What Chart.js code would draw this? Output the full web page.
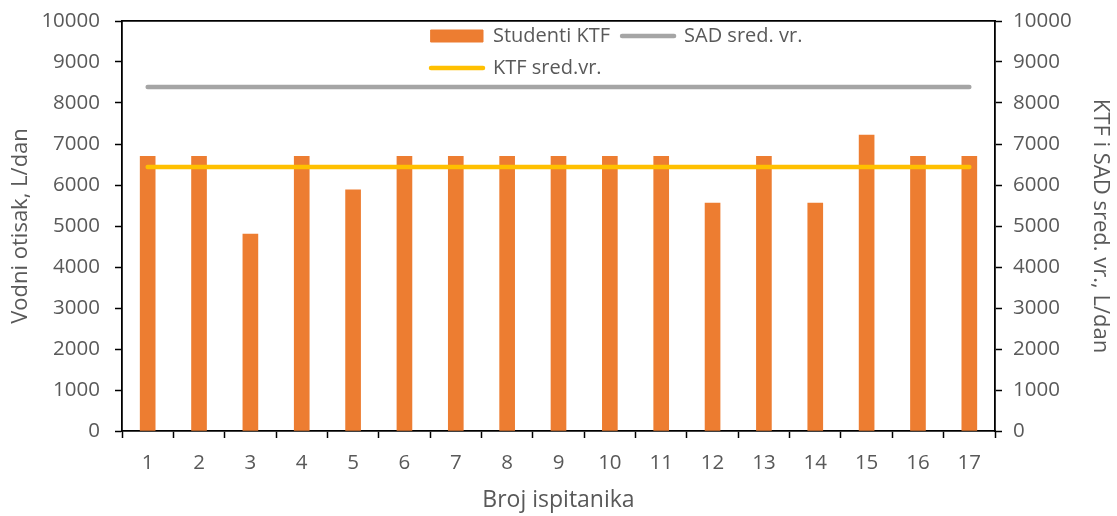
<!DOCTYPE html>
<html>
<head>
<meta charset="utf-8">
<script src="https://cdn.jsdelivr.net/npm/chart.js@4/dist/chart.umd.min.js"></script>
<style>
  html, body { margin: 0; padding: 0; background: #fff; }
</style>
</head>
<body>
<canvas id="grafik" width="1117" height="516"></canvas>
<script>
// ---------- Podaci ----------
const ispitanici = ["1", "2", "3", "4", "5", "6", "7", "8", "9", "10", "11", "12", "13", "14", "15", "16", "17"];
const studentiKTF = [6700, 6700, 4800, 6700, 5880, 6700, 6700, 6700, 6700, 6700, 6700, 5560, 6700, 5560, 7220, 6700, 6700];
const sadSredVr = [8390, 8390, 8390, 8390, 8390, 8390, 8390, 8390, 8390, 8390, 8390, 8390, 8390, 8390, 8390, 8390, 8390];
const ktfSredVr = [6440, 6440, 6440, 6440, 6440, 6440, 6440, 6440, 6440, 6440, 6440, 6440, 6440, 6440, 6440, 6440, 6440];
const oznakeY = [0, 1000, 2000, 3000, 4000, 5000, 6000, 7000, 8000, 9000, 10000];

const siva = "#595959";
const fontOznake = { family: "'Open Sans', sans-serif", size: 20.5 };
const fontLegenda = { family: "'Open Sans', sans-serif", size: 20 };
const fontNaslov = { family: "'Open Sans', sans-serif", size: 22 };

// legenda unutar grafika, u dva reda
const legendaUnutra = {
  id: "legendaUnutra",
  beforeUpdate(chart) {
    const legend = chart.legend;
    if (!legend || legend._unutra) return;
    legend._unutra = true;
    const fit = legend.fit;
    legend.fit = function () {
      this.maxWidth = 420;
      fit.call(this);
      this.height = 0;
    };
  },
  afterLayout(chart) {
    const legend = chart.legend;
    legend.left = 419;
    legend.right = 419 + 420;
    legend.top = 14;
    legend.bottom = 14 + 90;
  }
};

const crtice = { display: true, drawOnChartArea: false, drawTicks: true, tickLength: 7, tickColor: "#000", tickWidth: 1.5 };
const rub = { display: true, color: "#000", width: 1.8 };

const osY = (pozicija, naslov, razmak, naslovRazmak) => ({
  type: "linear",
  position: pozicija,
  min: 0,
  max: 10000,
  afterBuildTicks: scale => { scale.ticks = oznakeY.map(v => ({ value: v })); },
  afterFit: scale => {
    scale.width = 122;
    scale.paddingTop = 0;
    scale.paddingBottom = 0;
  },
  grid: crtice,
  border: rub,
  ticks: { color: siva, font: fontOznake, padding: razmak, callback: v => String(v) },
  title: { display: true, text: naslov, color: siva, font: fontNaslov, padding: { top: naslovRazmak, bottom: 0 } }
});

new Chart(document.getElementById("grafik"), {
  type: "bar",
  data: {
    labels: ispitanici,
    datasets: [
      {
        type: "bar",
        label: "Studenti KTF",
        data: studentiKTF,
        backgroundColor: "#ED7D31",
        borderWidth: 0,
        barThickness: 15,
        yAxisID: "y",
        order: 3
      },
      {
        type: "line",
        label: "SAD sred. vr.",
        data: sadSredVr,
        borderColor: "#A5A5A5",
        backgroundColor: "#A5A5A5",
        borderWidth: 4.5,
        borderCapStyle: "round",
        pointRadius: 0,
        yAxisID: "y2",
        order: 2
      },
      {
        type: "line",
        label: "KTF sred.vr.",
        data: ktfSredVr,
        borderColor: "#FFC000",
        backgroundColor: "#FFC000",
        borderWidth: 4.5,
        borderCapStyle: "round",
        pointRadius: 0,
        yAxisID: "y2",
        order: 1
      }
    ]
  },
  options: {
    responsive: false,
    animation: false,
    layout: { padding: 0 },
    plugins: {
      tooltip: { enabled: false },
      legend: {
        display: true,
        position: "top",
        align: "start",
        labels: {
          color: siva,
          font: fontLegenda,
          padding: 12,
          usePointStyle: true,
          pointStyleWidth: 52,
          boxHeight: 12,
          generateLabels: chart => chart.data.datasets.map((ds, i) => ({
            text: ds.label,
            fillStyle: ds.backgroundColor,
            strokeStyle: ds.type === "bar" ? ds.backgroundColor : ds.borderColor,
            lineWidth: ds.type === "bar" ? 1 : 4.5,
            lineCap: "round",
            pointStyle: ds.type === "bar" ? "rect" : "line",
            fontColor: siva,
            hidden: false,
            datasetIndex: i
          }))
        }
      }
    },
    scales: {
      x: {
        type: "category",
        position: "bottom",
        offset: true,
        afterFit: scale => { scale.height = 85; },
        grid: Object.assign({ offset: true }, crtice),
        border: rub,
        ticks: { color: siva, font: fontOznake, padding: 13, maxRotation: 0 },
        title: { display: true, text: "Broj ispitanika", color: siva, font: { family: "'Open Sans', sans-serif", size: 23 }, padding: { top: 0, bottom: 2 } }
      },
      xVrh: {
        type: "category",
        position: "top",
        display: true,
        offset: true,
        afterFit: scale => { scale.height = 21; },
        grid: { display: false, drawTicks: false },
        border: rub,
        ticks: { display: false }
      },
      y: osY("left", "Vodni otisak, L/dan", 15, 8),
      y2: osY("right", "KTF i SAD sred. vr., L/dan", 11, 4)
    }
  },
  plugins: [legendaUnutra]
});
</script>
</body>
</html>
